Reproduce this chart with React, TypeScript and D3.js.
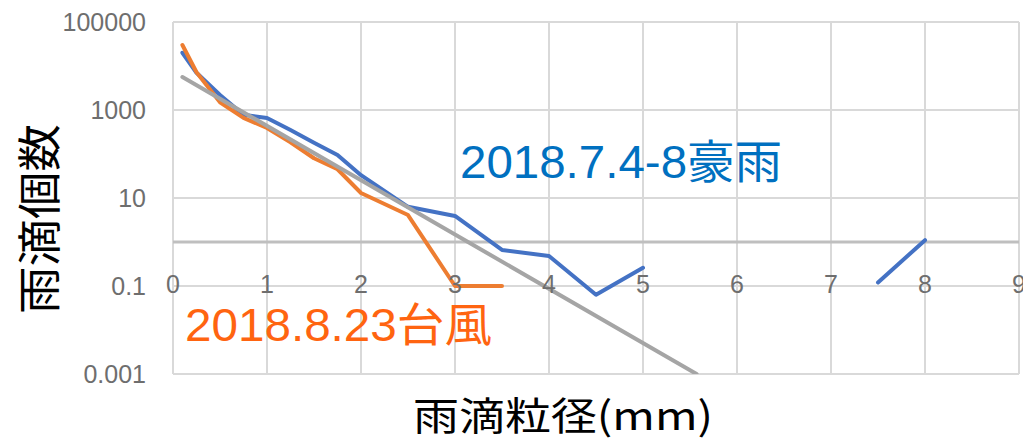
// @ts-nocheck
import * as d3 from "d3";
import React from "react";

// 雨滴粒径 (mm)
const sizes = [0.1, 0.25, 0.5, 0.75, 1.0, 1.25, 1.5, 1.75, 2.0, 2.5, 3.0, 3.5, 4.0, 4.5, 5.0, 5.5, 6.0, 6.5, 7.0, 7.5, 8.0];
// 2018.7.4-8 豪雨 (null = 0, not drawn on log axis)
const heavyRain = [20000, 7000, 2200, 780, 660, 350, 180, 95, 33, 6.3, 3.9, 0.66, 0.48, 0.063, 0.26, null, null, null, null, 0.12, 1.1];
// 2018.8.23 台風
const typhoon = [30000, 7200, 1500, 660, 390, 185, 80, 45, 13, 4.1, 0.1, 0.1, null, null, null, null, null, null, null, null, null];
// 近似曲線 (exponential trendline end points)
const trendX = [0.1, 5.57];
const trendV = [5600, 0.001];

const yTicks = [0.001, 0.1, 10, 1000, 100000];
const yTickLabels = ["0.001", "0.1", "10", "1000", "100000"];
const xTicks = [0, 1, 2, 3, 4, 5, 6, 7, 8, 9];

const W = 1023;
const H = 443;
const left = 173, right = 1019, top = 22, bottom = 374;

export default function App() {
  const x = d3.scaleLinear([0, 9], [left, right]);
  const y = d3.scaleLog([0.001, 100000], [bottom, top]);

  const line = d3
    .line()
    .defined((d) => d[1] != null)
    .x((d) => x(d[0]))
    .y((d) => y(d[1]));

  const blue = sizes.map((s, i) => [s, heavyRain[i]]);
  const orange = sizes.map((s, i) => [s, typhoon[i]]);
  const gray = trendX.map((s, i) => [s, trendV[i]]);

  const tickFont = "'Liberation Sans', Arial, sans-serif";
  const cjk = "'Liberation Sans', Arial, 'Noto Sans CJK JP', sans-serif";

  return (
    <svg width={W} height={H} style={{ position: "absolute", left: 0, top: 0, background: "#fff" }}>
      <defs>
        <clipPath id="plot">
          <rect x={left} y={top} width={right - left} height={bottom - top} />
        </clipPath>
      </defs>
      {/* gridlines */}
      <g stroke="#d9d9d9" strokeWidth={2}>
        {yTicks.map((t) => (
          <line key={"h" + t} x1={left} x2={right} y1={y(t)} y2={y(t)} />
        ))}
        {xTicks.map((t) => (
          <line key={"v" + t} x1={x(t)} x2={x(t)} y1={top} y2={bottom} />
        ))}
      </g>
      {/* horizontal axis crosses at 1 */}
      <line x1={left} x2={right} y1={y(1)} y2={y(1)} stroke="#bfbfbf" strokeWidth={3} />

      <g clipPath="url(#plot)" fill="none" strokeWidth={4} strokeLinejoin="round" strokeLinecap="round">
        <path d={line(blue)} stroke="#4472c4" />
        <path d={line(orange)} stroke="#ed7d31" />
        <path d={line(gray)} stroke="#a5a5a5" />
      </g>

      {/* y tick labels */}
      <g fontFamily={tickFont} fontSize={25} fill="#6e6e6e" textAnchor="end">
        {yTicks.map((t, i) => (
          <text key={t} x={146} y={y(t) + 9}>
            {yTickLabels[i]}
          </text>
        ))}
      </g>
      {/* x tick labels */}
      <g fontFamily={tickFont} fontSize={25} fill="#6e6e6e" textAnchor="middle">
        {xTicks.map((t) => (
          <text key={t} x={x(t)} y={293}>
            {t}
          </text>
        ))}
      </g>

      {/* axis titles */}
      <text
        transform={`translate(56,219) rotate(-90)`}
        textAnchor="middle"
        fontFamily="'Noto Sans CJK JP', sans-serif"
        fontSize={44}
        fill="#000"
        textLength={190}
        lengthAdjust="spacingAndGlyphs"
      >
        雨滴個数
      </text>
      <text
        x={413}
        y={430}
        fontFamily="'Noto Sans CJK JP', sans-serif"
        fontSize={39}
        fill="#000"
        textLength={300}
        lengthAdjust="spacingAndGlyphs"
      >
        雨滴粒径(mm)
      </text>

      {/* series labels */}
      <text x={460} y={178} fontFamily={cjk} fontSize={46} fill="#0070c0" textLength={322} lengthAdjust="spacingAndGlyphs">
        2018.7.4-8豪雨
      </text>
      <text x={185} y={341} fontFamily={cjk} fontSize={46} fill="#ff6410" textLength={307} lengthAdjust="spacingAndGlyphs">
        2018.8.23台風
      </text>
    </svg>
  );
}
